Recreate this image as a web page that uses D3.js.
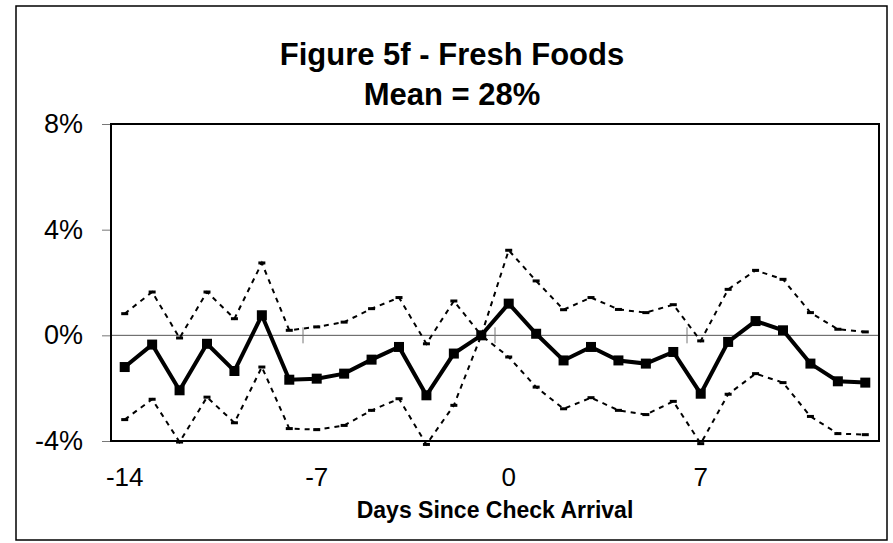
<!DOCTYPE html>
<html>
<head>
<meta charset="utf-8">
<script src="https://cdn.jsdelivr.net/npm/d3@7"></script>
<style>
  html, body { margin: 0; padding: 0; background: #fff; }
  svg { display: block; font-family: "Liberation Sans", Arial, sans-serif; }
</style>
</head>
<body>
<div id="chart"></div>
<script>
// Days since check arrival
const days = d3.range(-14, 14);
const xTickDays = [-14, -7, 0, 7];
const yTicks = [-4, 0, 4, 8];

// Percent deviation from mean
const meanLine = [-1.20, -0.35, -2.08, -0.32, -1.35, 0.76, -1.68, -1.64, -1.45, -0.92,
                  -0.44, -2.27, -0.69, 0.00, 1.20, 0.06, -0.95, -0.44, -0.95, -1.07,
                  -0.63, -2.21, -0.25, 0.54, 0.19, -1.07, -1.74, -1.79];
const upperBand = [0.82, 1.64, -0.10, 1.64, 0.63, 2.74, 0.19, 0.32, 0.50, 1.01,
                   1.43, -0.32, 1.30, 0.00, 3.22, 2.06, 0.97, 1.43, 0.98, 0.86,
                   1.16, -0.21, 1.74, 2.46, 2.12, 0.86, 0.23, 0.13];
const lowerBand = [-3.19, -2.42, -4.04, -2.34, -3.31, -1.20, -3.53, -3.57, -3.41, -2.84,
                   -2.40, -4.13, -2.65, 0.00, -0.82, -1.96, -2.78, -2.36, -2.84, -3.00,
                   -2.50, -4.10, -2.23, -1.45, -1.79, -3.07, -3.72, -3.76];

const width = 893, height = 543;
const plot = { left: 111, right: 879, top: 124, bottom: 441 };

const svg = d3.select('#chart').append('svg')
    .attr('width', width)
    .attr('height', height);

// outer chart border
svg.append('rect')
    .attr('x', 16).attr('y', 6)
    .attr('width', 871).attr('height', 534)
    .attr('fill', '#fff')
    .attr('stroke', '#000')
    .attr('stroke-width', 1.5);

// title
const title = svg.append('text')
    .attr('text-anchor', 'middle')
    .style('font-weight', 'bold')
    .style('font-size', '31px');
title.append('tspan').attr('x', 452).attr('y', 65).text('Figure 5f - Fresh Foods');
title.append('tspan').attr('x', 452).attr('y', 105).text('Mean = 28%');

const x = d3.scaleBand()
    .domain(days)
    .range([plot.left, plot.right]);
const cx = d => x(d) + x.bandwidth() / 2;

const y = d3.scaleLinear()
    .domain([-4, 8])
    .range([plot.bottom, plot.top]);

// y axis
const yAxis = svg.append('g')
    .attr('transform', `translate(${plot.left},0)`)
    .call(d3.axisLeft(y)
        .tickValues(yTicks)
        .tickSize(9)
        .tickSizeOuter(0)
        .tickPadding(19)
        .tickFormat(d => d + '%'));
yAxis.select('.domain').remove();
yAxis.selectAll('line').attr('stroke', '#777');
yAxis.selectAll('text')
    .style('font-size', '27px')
    .style('font-family', '"Liberation Sans", Arial, sans-serif')
    .attr('fill', '#000');

// x axis labels
const xAxis = svg.append('g')
    .attr('transform', `translate(0,${plot.bottom})`)
    .call(d3.axisBottom(x)
        .tickValues(xTickDays)
        .tickSize(0)
        .tickPadding(27));
xAxis.select('.domain').remove();
xAxis.selectAll('text')
    .style('font-size', '26px')
    .style('font-family', '"Liberation Sans", Arial, sans-serif')
    .attr('fill', '#000');

svg.append('text')
    .attr('x', (plot.left + plot.right) / 2)
    .attr('y', 518)
    .attr('text-anchor', 'middle')
    .style('font-weight', 'bold')
    .style('font-size', '23px')
    .text('Days Since Check Arrival');

// zero line
svg.append('line')
    .attr('x1', plot.left).attr('x2', plot.right)
    .attr('y1', y(0)).attr('y2', y(0))
    .attr('stroke', '#555')
    .attr('stroke-width', 1);

// category ticks on the zero line
svg.append('g')
    .selectAll('line')
    .data(xTickDays.slice(1))
    .join('line')
    .attr('x1', d => x(d)).attr('x2', d => x(d))
    .attr('y1', y(0) - 8).attr('y2', y(0) + 8)
    .attr('stroke', '#777')
    .attr('stroke-width', 1);

const line = d3.line()
    .x((d, i) => cx(days[i]))
    .y(d => y(d));

// confidence bands
[upperBand, lowerBand].forEach(band => {
    svg.append('path')
        .datum(band)
        .attr('d', line)
        .attr('fill', 'none')
        .attr('stroke', '#000')
        .attr('stroke-width', 2)
        .attr('stroke-dasharray', '5,5');

    svg.append('g')
        .selectAll('rect')
        .data(band)
        .join('rect')
        .attr('x', (d, i) => cx(days[i]) - 3.5)
        .attr('y', d => y(d) - 1.5)
        .attr('width', 7)
        .attr('height', 3)
        .attr('fill', '#000');
});

// main series
svg.append('path')
    .datum(meanLine)
    .attr('d', line)
    .attr('fill', 'none')
    .attr('stroke', '#000')
    .attr('stroke-width', 4)
    .attr('stroke-linejoin', 'miter');

svg.append('g')
    .selectAll('rect')
    .data(meanLine)
    .join('rect')
    .attr('x', (d, i) => cx(days[i]) - 5)
    .attr('y', d => y(d) - 5)
    .attr('width', 10)
    .attr('height', 10)
    .attr('fill', '#000');

// plot frame
svg.append('rect')
    .attr('x', plot.left).attr('y', plot.top)
    .attr('width', plot.right - plot.left)
    .attr('height', plot.bottom - plot.top)
    .attr('fill', 'none')
    .attr('stroke', '#000')
    .attr('stroke-width', 2);
</script>
</body>
</html>
